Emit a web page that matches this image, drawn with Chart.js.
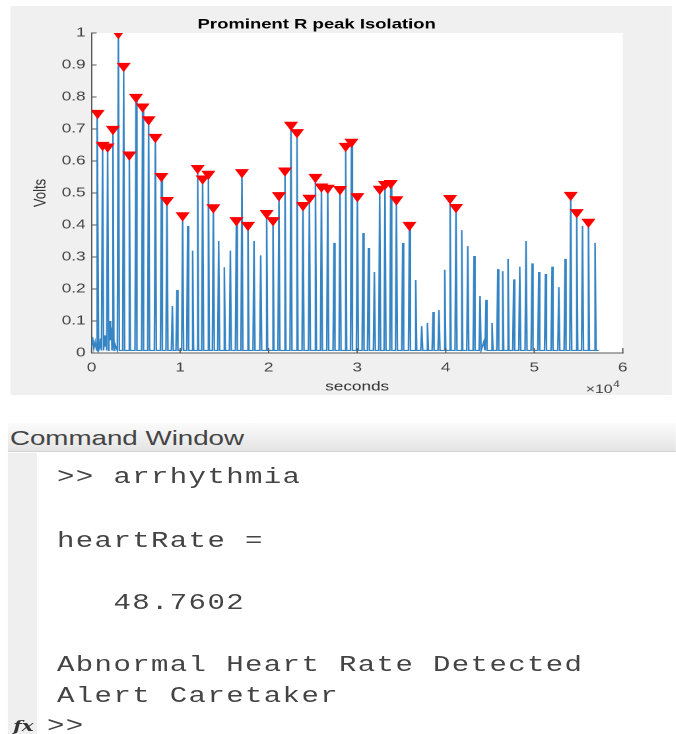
<!DOCTYPE html>
<html>
<head>
<meta charset="utf-8">
<title>Prominent R peak Isolation</title>
<script src="https://cdn.jsdelivr.net/npm/chart.js@4/dist/chart.umd.min.js"></script>
<style>
  html, body { margin: 0; padding: 0; background: #fff; width: 676px; height: 734px; overflow: hidden; }
  /* the reference screenshot is stretched sideways, so the whole page is too */
  #stage { position: absolute; left: 0; top: 0; width: 512px; height: 734px; transform: scaleX(1.32); transform-origin: 0 0; }
  #fig { position: absolute; left: 8.33px; top: 6px; width: 501px; height: 389px; background: #f0f0f0; }
  #cwHead { position: absolute; left: 6px; top: 423px; width: 506px; height: 29px; background: linear-gradient(#fbfbfb, #e4e4e4); border-bottom: 1px solid #d2d2d2;
            font: 21px "Liberation Sans", Arial, sans-serif; color: #444; line-height: 29px; padding-left: 1.5px; box-sizing: border-box; }
  #cwGutter { position: absolute; left: 6px; top: 453px; width: 22px; height: 281px; background: #efefef; }
  .ln { position: absolute; left: 43.2px; font: 22px "Liberation Mono", "DejaVu Sans Mono", monospace; letter-spacing: 1.04px; line-height: 22px; white-space: pre; color: #444; }
  #fx { position: absolute; left: 10px; top: 715px; font: italic bold 15px "DejaVu Serif", serif; color: #333; line-height: 22px; }
</style>
</head>
<body>
<div id="stage">
  <div id="fig"><canvas id="ecgChart" width="501" height="389"></canvas></div>

  <div id="cwHead">Command Window</div>
  <div id="cwGutter"></div>
  <div class="ln" style="top:467px">&gt;&gt; arrhythmia</div>
  <div class="ln" style="top:531px">heartRate =</div>
  <div class="ln" style="top:593px">   48.7602</div>
  <div class="ln" style="top:655px">Abnormal Heart Rate Detected</div>
  <div class="ln" style="top:686px">Alert Caretaker</div>
  <div id="fx">fx</div>
  <div class="ln" style="top:716px;left:35.6px">&gt;&gt;</div>
</div>

<script>
/* ---------- data ---------- */
const chartTitle = "Prominent R peak Isolation";

// every spike of the signal: sample index and height in volts
const peakTimes = [680,1240,1810,2410,3020,3620,4260,5010,5760,6440,
  7200,7880,8510,9120,9640,10280,10850,11410,11980,12540,
  13190,13750,14350,14990,15670,16350,16980,17660,18340,19100,
  19770,20490,21160,21840,22520,23200,23880,24600,25280,25960,
  26670,27380,28060,28700,29350,30020,30660,31270,31940,32540,
  33140,33790,34430,35140,35900,36610,37290,37930,38570,39240,
  39890,40490,41160,41810,42490,43200,43880,44550,45230,45880,
  46440,47040,47680,48360,49070,49750,50510,51270,52010,52770,
  53480,54120,54800,55450,56120,56870];
const peakVolts = [0.75,0.65,0.645,0.70,1.0,0.897,0.62,0.80,0.77,0.73,
  0.675,0.553,0.478,0.147,0.197,0.43,0.397,0.32,0.578,0.545,
  0.56,0.455,0.35,0.268,0.32,0.415,0.565,0.40,0.35,0.305,
  0.437,0.415,0.493,0.57,0.713,0.69,0.462,0.485,0.55,0.52,
  0.516,0.344,0.512,0.647,0.66,0.49,0.375,0.328,0.253,0.513,
  0.528,0.531,0.48,0.344,0.40,0.228,0.084,0.094,0.128,0.134,
  0.26,0.484,0.456,0.384,0.334,0.303,0.178,0.166,0.094,0.262,
  0.256,0.294,0.23,0.27,0.35,0.28,0.253,0.247,0.27,0.206,
  0.294,0.494,0.44,0.397,0.41,0.344];

// which spikes findpeaks flagged (red markers)
const rPeakIdx = [0,1,2,3,4,5,6,7,8,9,10,11,12,15,18,19,20,21,25,26,27,
  30,31,32,33,34,35,36,37,38,39,40,42,43,44,45,49,50,51,52,54,61,62,81,82,84];

// low-level noise on the baseline
const noiseTimes = [0,100,250,400,550,900,1000,1100,1450,1550,1650,1950,2050,2150,2250,2330,2600,2800,44300,44380];
const noiseVolts = [0.02,0.05,0.015,0.035,0.01,0.015,0.045,0.02,0.055,0.02,0.04,0.03,0.10,0.04,0.08,0.02,0.03,0.015,0.035,0.015];
const baseVolt = 0.008;
const signalEnd = 57300;

const xTicks = [0,1,2,3,4,5,6];          // x 10^4 samples
const yTicks = [0,0.1,0.2,0.3,0.4,0.5,0.6,0.7,0.8,0.9,1];

/* ---------- build the trace ---------- */
const halfW = 110;
const trace = [];
peakTimes.forEach((t, i) => {
  trace.push({ x: t - halfW, y: baseVolt }, { x: t, y: peakVolts[i] }, { x: t + halfW, y: baseVolt });
});
noiseTimes.forEach((t, i) => trace.push({ x: t, y: noiseVolts[i] }));
trace.push({ x: signalEnd, y: baseVolt });
trace.sort((a, b) => a.x - b.x);

const markers = rPeakIdx.map(i => ({ x: peakTimes[i], y: peakVolts[i] }));

/* ---------- small plugins: white axes box, inward ticks, exponent ---------- */
const FONT = '"Liberation Sans", Arial, sans-serif';
const AXIS = "#5a5a5a";

const matlabAxes = {
  id: "matlabAxes",
  beforeDraw(chart) {
    const { ctx, chartArea: a } = chart;
    ctx.save();
    ctx.fillStyle = "#fff";
    ctx.fillRect(a.left, a.top, a.right - a.left, a.bottom - a.top);
    ctx.restore();
  },
  afterDraw(chart) {
    const { ctx, chartArea: a, scales: { x, y } } = chart;
    ctx.save();
    ctx.strokeStyle = AXIS;
    ctx.lineWidth = 1;
    ctx.beginPath();
    xTicks.forEach(v => { const px = x.getPixelForValue(v * 1e4); ctx.moveTo(px, a.bottom); ctx.lineTo(px, a.bottom - 5); });
    yTicks.forEach(v => { const py = y.getPixelForValue(v); ctx.moveTo(a.left, py); ctx.lineTo(a.left + 3.8, py); });
    ctx.stroke();
    // x 10^4 multiplier under the last tick
    ctx.fillStyle = "#444";
    ctx.font = "12px " + FONT;
    ctx.textAlign = "right";
    ctx.textBaseline = "alphabetic";
    ctx.fillText("\u00d710", x.right - 7.7, x.bottom - 2);
    ctx.font = "9px " + FONT;
    ctx.textAlign = "left";
    ctx.fillText("4", x.right - 7.3, x.bottom - 8);
    ctx.restore();
  }
};

new Chart(document.getElementById("ecgChart"), {
  type: "line",
  data: {
    datasets: [
      {
        type: "scatter", data: markers, showLine: false,
        pointStyle: "triangle", rotation: 180, pointRadius: 5.2, pointHoverRadius: 5.2,
        backgroundColor: "#ff0000", borderColor: "#ff0000", borderWidth: 1,
      },
      {
        data: trace, borderColor: "#3584c4", borderWidth: 1.2, pointRadius: 0,
        tension: 0, fill: false,
      },
    ]
  },
  options: {
    responsive: false,
    devicePixelRatio: 2,
    animation: false,
    events: [],
    layout: { padding: { top: 0, left: 0, right: 37.2, bottom: 0 } },
    plugins: {
      legend: { display: false },
      tooltip: { enabled: false },
      title: {
        display: true, text: chartTitle, color: "#000",
        font: { family: FONT, size: 14, weight: "bold" },
        padding: { top: 10, bottom: 0.2 },
      },
    },
    scales: {
      x: {
        type: "linear", min: 0, max: 60000,
        afterBuildTicks: s => { s.ticks = xTicks.map(v => ({ value: v * 1e4 })); },
        afterFit: s => { s.height = 42; },
        grid: { display: false, drawTicks: false },
        border: { display: true, color: AXIS, width: 1 },
        ticks: { color: "#444", padding: 7, maxRotation: 0, font: { family: FONT, size: 13 }, callback: v => String(v / 1e4) },
        title: { display: true, text: "seconds", color: "#333", font: { family: FONT, size: 13 }, padding: { top: 0, bottom: 0.2 } },
      },
      y: {
        type: "linear", min: 0, max: 1,
        afterBuildTicks: s => { s.ticks = yTicks.map(v => ({ value: v })); },
        afterFit: s => { s.width = 61.4; },
        grid: { display: false, drawTicks: false },
        border: { display: true, color: AXIS, width: 1 },
        ticks: { color: "#444", padding: 4.6, font: { family: FONT, size: 13 }, callback: v => String(+v.toFixed(1)) },
        title: { display: true, text: "Volts", color: "#333", font: { family: FONT, size: 13 }, padding: { top: 14.9, bottom: 0 } },
      },
    },
  },
  plugins: [matlabAxes],
});
</script>
</body>
</html>
